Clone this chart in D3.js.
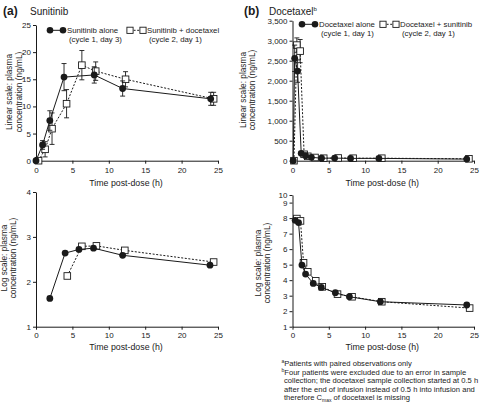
<!DOCTYPE html>
<html><head><meta charset="utf-8">
<script src="https://cdn.jsdelivr.net/npm/d3@7"></script>
<style>
html,body{margin:0;padding:0;background:#fff;}
svg{display:block;font-family:"Liberation Sans",Arial,Helvetica,sans-serif;}
</style></head><body>
<svg id="chart" width="480" height="408"></svg>
<script>
// ---------- DATA ----------
const xTicks = [0, 5, 10, 15, 20, 25];
const sunLinTicks = [0, 5, 10, 15, 20, 25];
const sunLogTicks = [1, 2, 3, 4];
const docLinTicks = [0, 500, 1000, 1500, 2000, 2500, 3000, 3500];
const docLogTicks = [1, 2, 3, 4, 5, 6, 7, 8, 9, 10];

// Sunitinib, linear scale
const sunLinTimeAlone = [0, 0.9, 1.9, 3.85, 8.0, 11.9, 24.0];
const sunLinAlone     = [0, 2.9, 7.4, 15.4, 15.8, 13.3, 11.4];
const sunLinAloneSD   = [0, 0.8, 1.8, 2.5, 1.5, 1.4, 1.2];
const sunLinTimeCombo = [0.35, 1.25, 2.2, 4.2, 6.3, 8.2, 12.3, 24.4];
const sunLinCombo     = [0, 2.1, 5.9, 10.5, 17.6, 16.5, 15.0, 11.4];
const sunLinComboSD   = [0, 1.4, 2.9, 2.6, 2.7, 1.7, 1.4, 1.2];

// Sunitinib, log scale
const sunLogTimeAlone = [1.9, 4.0, 5.9, 7.9, 11.9, 23.9];
const sunLogAlone     = [1.63, 2.64, 2.72, 2.75, 2.59, 2.37];
const sunLogTimeCombo = [4.3, 6.3, 8.3, 12.2, 24.4];
const sunLogCombo     = [2.13, 2.79, 2.80, 2.70, 2.44];

// Docetaxel, linear scale
const docLinTimeAlone = [0.1, 0.3, 0.7, 1.2, 1.8, 2.6, 4.0, 5.8, 8.0, 11.9, 24.0];
const docLinAlone     = [0, 2560, 2240, 185, 125, 85, 62, 65, 58, 58, 40];
const docLinAloneSD   = [0, 330, 280, 40, 30, 20, 15, 15, 12, 10, 10];
const docLinTimeCombo = [0.2, 0.6, 1.05, 1.6, 2.1, 3.1, 4.3, 6.3, 8.35, 12.3, 24.3];
const docLinCombo     = [0, 2890, 2740, 160, 110, 80, 62, 68, 62, 62, 48];
const docLinComboSD   = [0, 180, 290, 40, 30, 20, 15, 15, 12, 12, 10];

// Docetaxel, log scale
const docLogTimeAlone = [0.37, 0.83, 1.3, 1.8, 2.86, 3.97, 5.9, 7.84, 12.1, 24.0];
const docLogAlone     = [7.86, 7.71, 4.97, 4.39, 3.79, 3.53, 3.19, 2.93, 2.61, 2.40];
const docLogTimeCombo = [0.6, 1.1, 1.52, 2.1, 3.2, 4.1, 6.2, 8.2, 12.3, 24.4];
const docLogCombo     = [7.97, 7.82, 5.12, 4.54, 3.96, 3.57, 3.10, 2.93, 2.61, 2.20];

const xTitle = "Time post-dose (h)";

// ---------- DRAW ----------
const svg = d3.select("#chart");
const FS_TICK = 8, FS_TITLE = 8.8, FS_YT = 8.3, INK = "#1a1a1a";

function zip(t, v, sd) { return t.map((x, i) => ({x, y: v[i], sd: sd ? sd[i] : 0})); }

function panel(o) {
  const g = svg.append("g");
  const x = d3.scaleLinear().domain([0, 25]).range(o.xr);
  const y = d3.scaleLinear().domain(o.yd).range(o.yr);
  const ax = g.append("g").attr("transform", `translate(0,${o.yr[0]})`)
    .call(d3.axisBottom(x).tickValues(xTicks).tickSize(3).tickSizeOuter(0).tickPadding(o.xpad));
  const ay = g.append("g").attr("transform", `translate(${o.xr[0]},0)`)
    .call(d3.axisLeft(y).tickValues(o.yTicks).tickFormat(o.yFmt || d3.format("d")).tickSize(3).tickSizeOuter(0).tickPadding(2));
  [ax, ay].forEach(a => {
    a.attr("font-family", null);
    a.selectAll("text").attr("font-size", FS_TICK).attr("fill", INK);
    a.selectAll("line").attr("stroke", INK);
    a.select(".domain").attr("stroke", INK);
  });
  ay.selectAll("text").attr("dy", "0.32em");
  g.append("text").attr("x", (o.xr[0] + o.xr[1]) / 2 - 1).attr("y", o.yr[0] + o.xtOff)
    .attr("text-anchor", "middle").attr("font-size", FS_TITLE).attr("fill", INK).text(xTitle);
  const yt = g.append("text").attr("transform", `translate(${o.ytx},${o.ytc}) rotate(-90)`)
    .attr("text-anchor", "middle").attr("font-size", FS_YT).attr("fill", INK);
  yt.append("tspan").attr("x", 0).text(o.yLabel[0]);
  yt.append("tspan").attr("x", 0).attr("dy", "1.15em").text(o.yLabel[1]);

  const line = d3.line().x(d => x(d.x)).y(d => y(d.y));
  o.series.forEach(s => {
    s.data.filter(d => d.sd > 0).forEach(d => {
      const eg = g.append("g").attr("stroke", INK).attr("stroke-width", 0.9);
      eg.append("line").attr("x1", x(d.x)).attr("x2", x(d.x)).attr("y1", y(d.y - d.sd)).attr("y2", y(d.y + d.sd));
      [d.y - d.sd, d.y + d.sd].forEach(v => eg.append("line")
        .attr("x1", x(d.x) - 2.5).attr("x2", x(d.x) + 2.5).attr("y1", y(v)).attr("y2", y(v)));
    });
    g.append("path").datum(s.data).attr("d", line).attr("fill", "none").attr("stroke", INK)
      .attr("stroke-width", 1).attr("stroke-dasharray", s.dashed ? "2,1.6" : null);
    if (s.square) g.selectAll(null).data(s.data).enter().append("rect")
      .attr("x", d => x(d.x) - 3.3).attr("y", d => y(d.y) - 3.3).attr("width", 6.6).attr("height", 6.6)
      .attr("fill", "#fff").attr("stroke", INK).attr("stroke-width", 0.9);
    else g.selectAll(null).data(s.data).enter().append("circle")
      .attr("cx", d => x(d.x)).attr("cy", d => y(d.y)).attr("r", 3.4).attr("fill", INK);
  });
}

function legendItem(x0, y0, square, l1, l2) {
  const g = svg.append("g");
  g.append("line").attr("x1", x0).attr("x2", x0 + 13).attr("y1", y0).attr("y2", y0)
    .attr("stroke", INK).attr("stroke-width", 1).attr("stroke-dasharray", square ? "2,1.6" : null);
  [x0, x0 + 13].forEach(cx => {
    if (square) g.append("rect").attr("x", cx - 3.1).attr("y", y0 - 3.1).attr("width", 6.2).attr("height", 6.2)
      .attr("fill", "#fff").attr("stroke", INK).attr("stroke-width", 0.9);
    else g.append("circle").attr("cx", cx).attr("cy", y0).attr("r", 3.3).attr("fill", INK);
  });
  g.append("text").attr("x", x0 + 17).attr("y", y0 + 2.8).attr("font-size", 7.8).attr("fill", INK).text(l1);
  g.append("text").attr("x", x0 + 19).attr("y", y0 + 11.8).attr("font-size", 7.8).attr("fill", INK).text(l2);
}

const LIN = ["Linear scale: plasma", "concentration (ng/mL)"];
const LOG = ["Log scale: plasma", "concentration (ng/mL)"];

// Panel (a) linear
panel({ xr: [36, 218], yr: [160.7, 25], yd: [0, 25], yTicks: sunLinTicks, ytx: 12, ytc: 92,
  xpad: 3.5, xtOff: 25, yLabel: LIN,
  series: [
    {data: zip(sunLinTimeCombo, sunLinCombo, sunLinComboSD), dashed: true, square: true},
    {data: zip(sunLinTimeAlone, sunLinAlone, sunLinAloneSD), dashed: false, square: false}
  ]});
// Panel (a) log
panel({ xr: [36, 218], yr: [326.7, 192], yd: [1, 4], yTicks: sunLogTicks, ytx: 6.5, ytc: 258,
  xpad: 3, xtOff: 23.5, yLabel: LOG,
  series: [
    {data: zip(sunLogTimeCombo, sunLogCombo), dashed: true, square: true},
    {data: zip(sunLogTimeAlone, sunLogAlone), dashed: false, square: false}
  ]});
// Panel (b) linear
panel({ xr: [292.5, 474], yr: [160.7, 20.7], yd: [0, 3500], yTicks: docLinTicks, ytx: 245.5, ytc: 90,
  xpad: 3.5, xtOff: 25, yFmt: d3.format(","), yLabel: LIN,
  series: [
    {data: zip(docLinTimeCombo, docLinCombo, docLinComboSD), dashed: true, square: true},
    {data: zip(docLinTimeAlone, docLinAlone, docLinAloneSD), dashed: false, square: false}
  ]});
// Panel (b) log: top tick compressed as in the original figure (piecewise scale)
panel({ xr: [292.5, 474], yr: [326.7, 202.6, 195], yd: [1, 9, 10], yTicks: docLogTicks, ytx: 260.5, ytc: 263,
  xpad: 3, xtOff: 23.5, yLabel: LOG,
  series: [
    {data: zip(docLogTimeCombo, docLogCombo), dashed: true, square: true},
    {data: zip(docLogTimeAlone, docLogAlone), dashed: false, square: false}
  ]});

// Legends
legendItem(50, 30.3, false, "Sunitinib alone", "(cycle 1, day 3)");
legendItem(130, 30.3, true, "Sunitinib + docetaxel", "(cycle 2, day 1)");
legendItem(302, 24.3, false, "Docetaxel alone", "(cycle 1, day 1)");
legendItem(383, 24.3, true, "Docetaxel + sunitinib", "(cycle 2, day 1)");

// Panel headings
svg.append("text").attr("x", 3).attr("y", 14.5).attr("font-size", 12).attr("font-weight", "bold").attr("fill", INK).text("(a)");
svg.append("text").attr("x", 30).attr("y", 14.5).attr("font-size", 10).attr("fill", INK).text("Sunitinib");
svg.append("text").attr("x", 244).attr("y", 14.5).attr("font-size", 12).attr("font-weight", "bold").attr("fill", INK).text("(b)");
const hb = svg.append("text").attr("x", 269).attr("y", 14.5).attr("font-size", 10).attr("fill", INK);
hb.append("tspan").text("Docetaxel");
hb.append("tspan").attr("font-size", 6).attr("dy", -3.5).text("b");

// Footnotes
const fn = svg.append("g").attr("font-size", 7.6).attr("fill", INK);
const f1 = fn.append("text").attr("x", 281.5).attr("y", 365.5);
f1.append("tspan").attr("font-size", 5).attr("dy", -2.5).text("a");
f1.append("tspan").attr("dy", 2.5).text("Patients with paired observations only");
const f2 = fn.append("text").attr("x", 281.5).attr("y", 374.5);
f2.append("tspan").attr("font-size", 5).attr("dy", -2.5).text("b");
f2.append("tspan").attr("dy", 2.5).text("Four patients were excluded due to an error in sample");
fn.append("text").attr("x", 284).attr("y", 383).text("collection; the docetaxel sample collection started at 0.5 h");
fn.append("text").attr("x", 284).attr("y", 391.5).text("after the end of infusion instead of 0.5 h into infusion and");
const f5 = fn.append("text").attr("x", 284).attr("y", 400);
f5.append("tspan").text("therefore C");
f5.append("tspan").attr("font-size", 5).attr("dy", 1.5).text("max");
f5.append("tspan").attr("dy", -1.5).text(" of docetaxel is missing");
</script>
</body></html>
